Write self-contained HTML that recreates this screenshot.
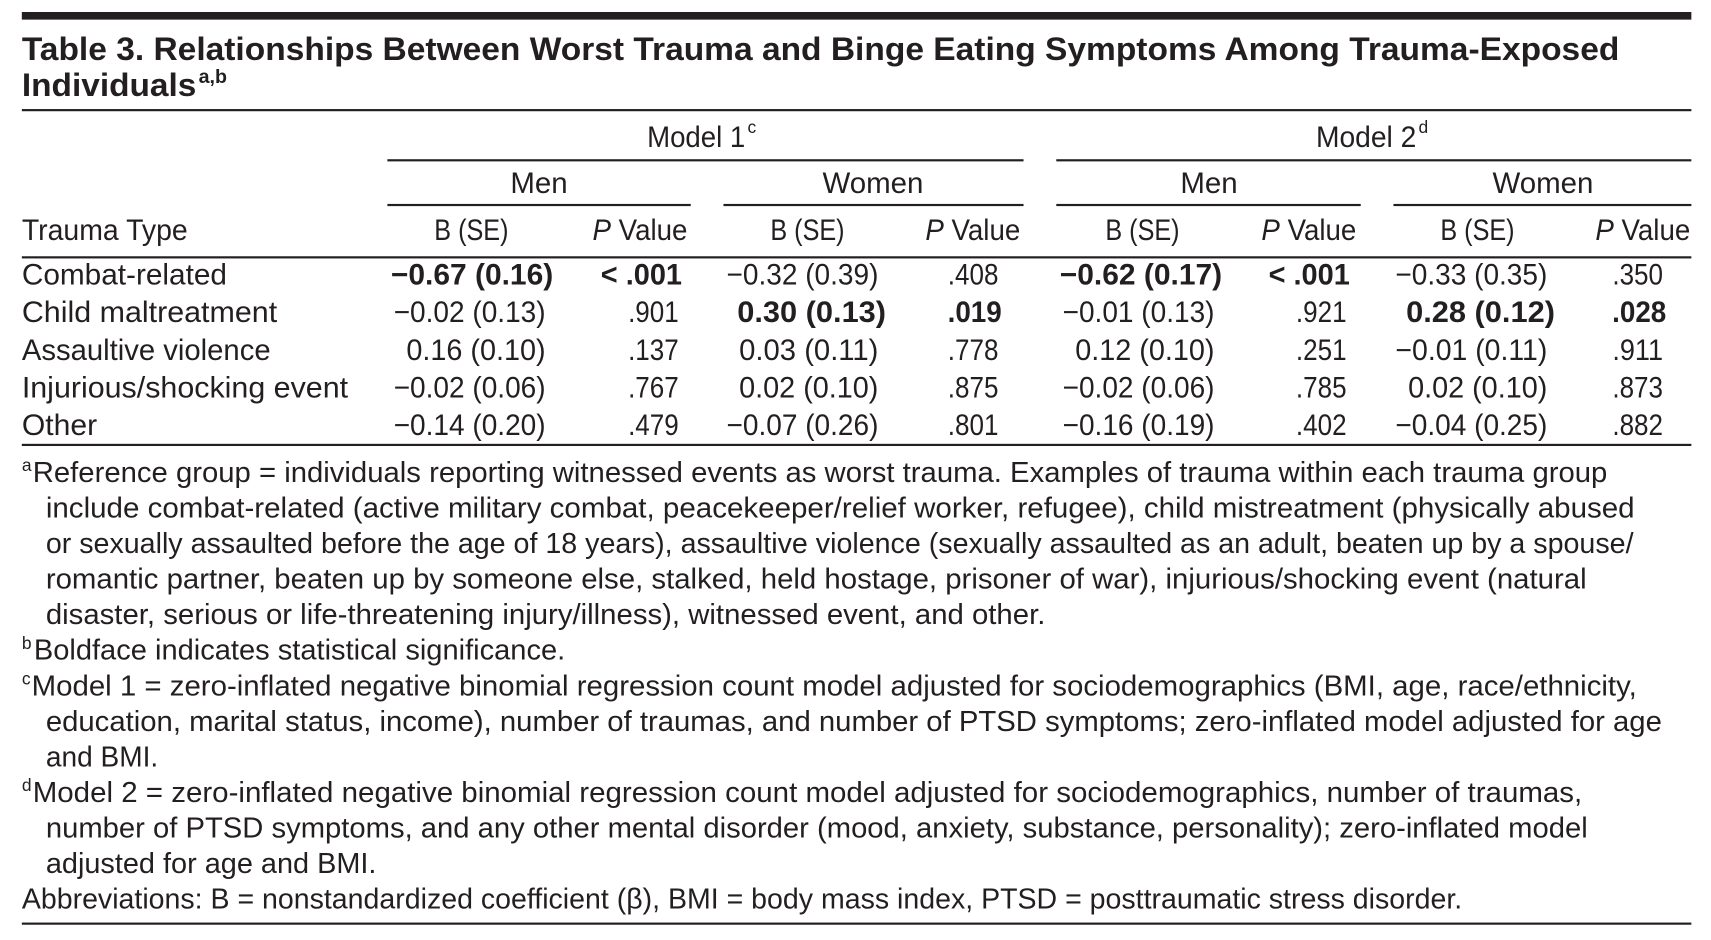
<!DOCTYPE html>
<html><head><meta charset="utf-8"><style>
html,body{margin:0;padding:0;background:#fff;}
svg{display:block;}
text{font-family:"Liberation Sans Narrow","Liberation Sans",sans-serif;fill:#231f20;}
.b{font-weight:bold;}
</style></head><body>
<svg width="1711" height="940" viewBox="0 0 1568 862" preserveAspectRatio="none" xmlns="http://www.w3.org/2000/svg">
<rect x="20" y="11" width="1530" height="7" fill="#231f20"/>
<text class="b" x="20" y="55" font-size="30" textLength="1464" lengthAdjust="spacingAndGlyphs">Table 3. Relationships Between Worst Trauma and Binge Eating Symptoms Among Trauma-Exposed</text>
<text class="b" x="20" y="88" font-size="30" textLength="160" lengthAdjust="spacingAndGlyphs">Individuals</text>
<text class="b" x="182" y="76" font-size="18">a,b</text>
<rect x="20" y="100" width="1530" height="2" fill="#231f20"/>

<g font-size="27">
<text x="593" y="135" textLength="90" lengthAdjust="spacingAndGlyphs">Model 1</text>
<text x="685" y="122" font-size="16">c</text>
<text x="1206" y="135" textLength="92" lengthAdjust="spacingAndGlyphs">Model 2</text>
<text x="1300" y="122" font-size="16">d</text>
<rect x="355" y="146" width="583" height="2" fill="#231f20"/>
<rect x="968" y="146" width="582" height="2" fill="#231f20"/>
<text x="494" y="177" text-anchor="middle">Men</text>
<text x="800" y="177" text-anchor="middle">Women</text>
<text x="1108" y="177" text-anchor="middle">Men</text>
<text x="1414" y="177" text-anchor="middle">Women</text>
<rect x="355" y="187" width="278" height="2" fill="#231f20"/>
<rect x="663" y="187" width="275" height="2" fill="#231f20"/>
<rect x="968" y="187" width="279" height="2" fill="#231f20"/>
<rect x="1277" y="187" width="273" height="2" fill="#231f20"/>
<text x="20" y="220" textLength="152" lengthAdjust="spacingAndGlyphs">Trauma Type</text>
<text x="398" y="220" textLength="68" lengthAdjust="spacingAndGlyphs">B (SE)</text>
<text x="543" y="220" textLength="87" lengthAdjust="spacingAndGlyphs"><tspan font-style="italic">P</tspan> Value</text>
<text x="706" y="220" textLength="68" lengthAdjust="spacingAndGlyphs">B (SE)</text>
<text x="848" y="220" textLength="87" lengthAdjust="spacingAndGlyphs"><tspan font-style="italic">P</tspan> Value</text>
<text x="1013" y="220" textLength="68" lengthAdjust="spacingAndGlyphs">B (SE)</text>
<text x="1156" y="220" textLength="87" lengthAdjust="spacingAndGlyphs"><tspan font-style="italic">P</tspan> Value</text>
<text x="1320" y="220" textLength="68" lengthAdjust="spacingAndGlyphs">B (SE)</text>
<text x="1462" y="220" textLength="87" lengthAdjust="spacingAndGlyphs"><tspan font-style="italic">P</tspan> Value</text>
</g>
<rect x="20" y="235" width="1530" height="2" fill="#231f20"/>
<g id="rows" font-size="27"></g>
<rect x="20" y="407" width="1530" height="2" fill="#231f20"/>
<g id="notes" font-size="26"></g>
<rect x="20" y="846" width="1530" height="2" fill="#231f20"/>
</svg>
<script>
const labels=[["Combat-related",188],["Child maltreatment",234],["Assaultive violence",228],["Injurious/shocking event",299],["Other",69]];
const cells=[
["*−0.67 (0.16)","*< .001","−0.32 (0.39)",".408","*−0.62 (0.17)","*< .001","−0.33 (0.35)",".350"],
["−0.02 (0.13)",".901","*0.30 (0.13)","*.019","−0.01 (0.13)",".921","*0.28 (0.12)","*.028"],
["0.16 (0.10)",".137","0.03 (0.11)",".778","0.12 (0.10)",".251","−0.01 (0.11)",".911"],
["−0.02 (0.06)",".767","0.02 (0.10)",".875","−0.02 (0.06)",".785","0.02 (0.10)",".873"],
["−0.14 (0.20)",".479","−0.07 (0.26)",".801","−0.16 (0.19)",".402","−0.04 (0.25)",".882"]];
const rights=[500,622,805,915,1113,1234,1418,1524];
const NS="http://www.w3.org/2000/svg";
const rows=document.getElementById('rows');
labels.forEach((l,i)=>{
 const y=261+i*34.5;
 const t=document.createElementNS(NS,'text');
 
 
 t.setAttribute('x',20);t.setAttribute('y',y);
 t.setAttribute('textLength',l[1]);t.setAttribute('lengthAdjust','spacingAndGlyphs');
 t.textContent=l[0];rows.appendChild(t);
 cells[i].forEach((c,j)=>{
  const bold=c[0]==='*';const s=bold?c.slice(1):c;
  const e=document.createElementNS(NS,'text');
  
  
  e.setAttribute('x',rights[j]+(bold?(j%2?3:7):0));e.setAttribute('y',y);
  e.setAttribute('text-anchor','end');
  if(bold)e.setAttribute('class','b');
  const w=s.length*(bold?12.4:11.6);
  e.setAttribute('textLength',w);e.setAttribute('lengthAdjust','spacingAndGlyphs');
  e.textContent=s;rows.appendChild(e);
 });
});
const notes=[
["a","Reference group = individuals reporting witnessed events as worst trauma. Examples of trauma within each trauma group",30,1473],
["","include combat-related (active military combat, peacekeeper/relief worker, refugee), child mistreatment (physically abused",42,1498],
["","or sexually assaulted before the age of 18 years), assaultive violence (sexually assaulted as an adult, beaten up by a spouse/",42,1497],
["","romantic partner, beaten up by someone else, stalked, held hostage, prisoner of war), injurious/shocking event (natural",42,1454],
["","disaster, serious or life-threatening injury/illness), witnessed event, and other.",42,958],
["b","Boldface indicates statistical significance.",31,518],
["c","Model 1 = zero-inflated negative binomial regression count model adjusted for sociodemographics (BMI, age, race/ethnicity,",29,1500],
["","education, marital status, income), number of traumas, and number of PTSD symptoms; zero-inflated model adjusted for age",42,1523],
["","and BMI.",42,145],
["d","Model 2 = zero-inflated negative binomial regression count model adjusted for sociodemographics, number of traumas,",30,1450],
["","number of PTSD symptoms, and any other mental disorder (mood, anxiety, substance, personality); zero-inflated model",42,1455],
["","adjusted for age and BMI.",42,345],
["","Abbreviations: B = nonstandardized coefficient (β), BMI = body mass index, PTSD = posttraumatic stress disorder.",20,1340]];
const ng=document.getElementById('notes');
notes.forEach((n,i)=>{
 const y=442+i*32.6;
 if(n[0]){
  const s=document.createElementNS(NS,'text');
  
  
  s.setAttribute('x',20);s.setAttribute('y',y-10);s.setAttribute('font-size','16');
  s.textContent=n[0];ng.appendChild(s);
 }
 const t=document.createElementNS(NS,'text');
 
 
 t.setAttribute('x',n[2]);t.setAttribute('y',y);
 t.setAttribute('textLength',n[3]-n[2]);t.setAttribute('lengthAdjust','spacingAndGlyphs');
 t.textContent=n[1];ng.appendChild(t);
});
</script>
</body></html>
